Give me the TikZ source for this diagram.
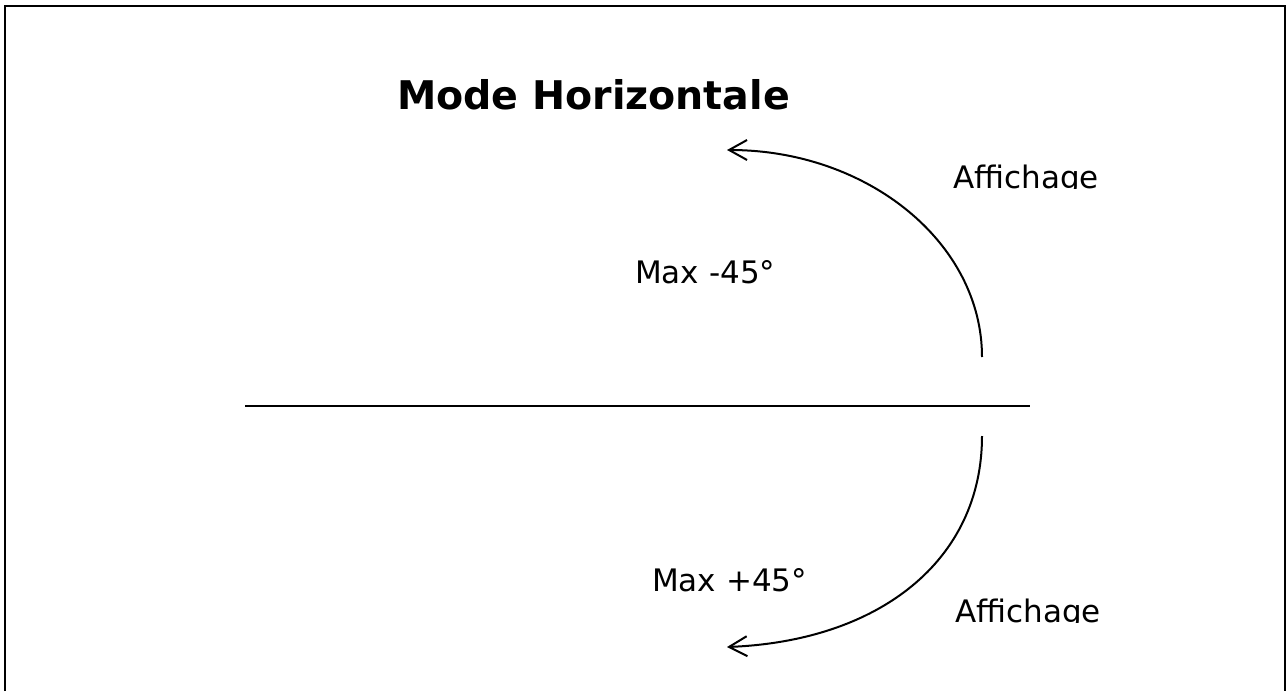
\documentclass[tikz,border=0pt]{standalone}
\usepackage{fontspec}
\setmainfont{DejaVu Sans}
\usepackage{tikz}
\usetikzlibrary{arrows.meta, positioning}

\tikzset{
    lbl/.style={inner sep=0pt, anchor=base west, font=\fontsize{31}{37}\selectfont},
    ttl/.style={inner sep=0pt, anchor=base west, font=\fontsize{39.5}{46}\selectfont\bfseries},
    turn/.style={line width=2pt, -{Straight Barb[length=18pt, width=20pt, line width=2pt]}}
}

\begin{document}
\begin{tikzpicture}[x=1pt, y=-1pt]
                \useasboundingbox (0,0) rectangle (1287,691);

                % Frame
                \draw[line width=2.6pt] (5,691) -- (5,6) -- (1285,6) -- (1285,691);

                % Title
                \node[ttl] (title) at (397,109) {Mode Horizontale};

                % Axis
                \coordinate (axisL) at (245,405.5);
                \coordinate (axisR) at (1030,405.5);
                \draw[line width=2pt] (axisL) -- (axisR);

                % Upper turn
                \coordinate (upstart) at (982,357);
                \coordinate (uptip) at (727,150);
                \draw[turn] (upstart) .. controls (982,243) and (868,150) .. (uptip);
                \node[lbl] (maxup) at (635,283) {Max -45°};
                \begin{scope}
                    \clip (940,140) rectangle (1120,188);
                    \node[lbl] (dispup) at (953,188) {Affichage};
                \end{scope}

                % Lower turn
                \coordinate (downstart) at (982,436);
                \coordinate (downtip) at (727,647);
                \draw[turn] (downstart) .. controls (982,560) and (880,641) .. (downtip);
                \node[lbl] (maxdown) at (652,591) {Max +45°};
                \begin{scope}
                    \clip (940,575) rectangle (1120,622);
                    \node[lbl] (dispdown) at (955,622) {Affichage};
                \end{scope}
\end{tikzpicture}
\end{document}
